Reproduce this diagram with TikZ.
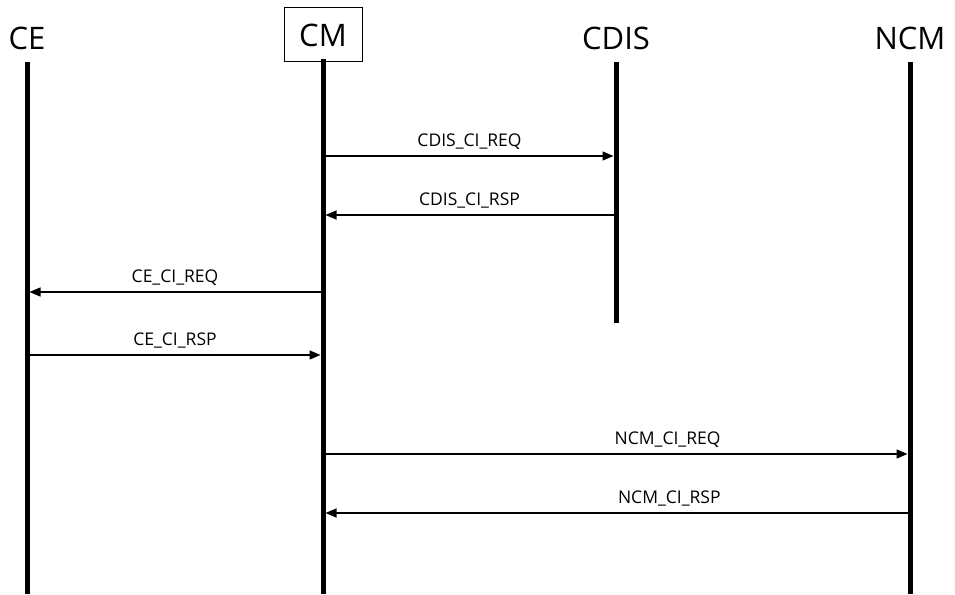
\documentclass[tikz,border=0pt]{standalone}
\usepackage{fontspec}
\setmainfont{Open Sans}
\usetikzlibrary{arrows.meta,positioning}
\tikzset{
  lifeline/.style={line width=5pt,black},
  header/.style={font=\fontsize{31}{36}\selectfont,inner sep=0pt},
  headbox/.style={draw,line width=1pt,minimum width=78pt,minimum height=54pt},
  msg/.style={-{Triangle[length=11pt,width=9pt]},line width=1.3pt,black,shorten >=2.5pt},
  msglabel/.style={font=\fontsize{17.5}{20}\selectfont,above=6pt,inner sep=0pt}
}

\begin{document}
\begin{tikzpicture}[x=1pt,y=-1pt]
  \useasboundingbox (0,0) rectangle (955,594);
  % participants and lifelines
  \node[header] (ce) at (27,38) {CE};
  \node[header,headbox] (cm) at (323,35) {CM};
  \node[header] (cdis) at (616,38) {CDIS};
  \node[header] (ncm) at (910,38) {NCM};
  \foreach \n/\e in {ce/594,cm/594,cdis/323,ncm/594}{
    \path (\n) ++(0,24) coordinate (\n top);
    \coordinate (\n bot) at (\n top |- 0,\e);
    \draw[lifeline] (\n top) -- (\n bot);
  }
  % messages
  \foreach \a/\b/\y/\p/\t in {cm/cdis/156/0.5/CDIS\_CI\_REQ,
                              cdis/cm/215/0.5/CDIS\_CI\_RSP,
                              cm/ce/292/0.5/CE\_CI\_REQ,
                              ce/cm/355/0.5/CE\_CI\_RSP,
                              cm/ncm/454/0.587/NCM\_CI\_REQ,
                              ncm/cm/513/0.41/NCM\_CI\_RSP}{
    \coordinate (m) at (0,\y);
    \draw[msg] (\a top |- m) -- (\b top |- m) node[msglabel,pos=\p] {\t};
  }
\end{tikzpicture}
\end{document}
